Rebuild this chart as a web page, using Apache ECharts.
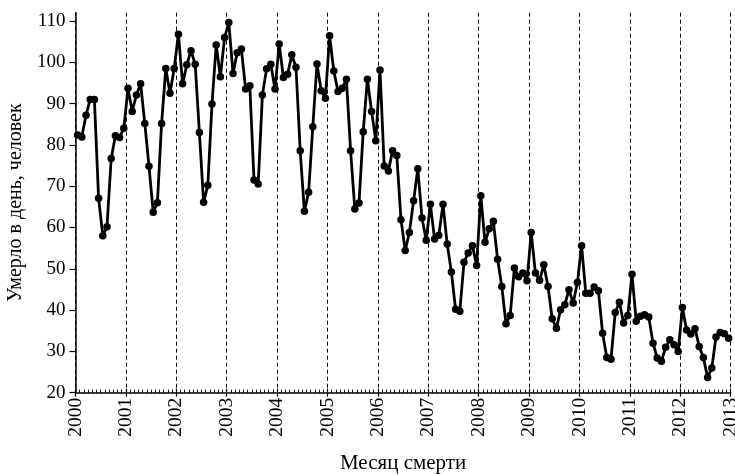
<!DOCTYPE html>
<html>
<head>
<meta charset="utf-8">
<script src="https://cdn.jsdelivr.net/npm/echarts@6/dist/echarts.min.js"></script>
<style>html,body{margin:0;padding:0;background:#fff}#c{width:735px;height:475px}</style>
</head>
<body>
<div id="c"></div>
<script>
// Monthly values (Jan..Dec) per year
const years = [2000,2001,2002,2003,2004,2005,2006,2007,2008,2009,2010,2011,2012];
const v2000 = [82.4, 81.9, 87.2, 91.0, 91.0, 67.1, 58.0, 60.2, 76.7, 82.2, 81.8, 84.0];
const v2001 = [93.7, 88.1, 92.1, 94.8, 85.2, 74.8, 63.7, 66.0, 85.2, 98.5, 92.5, 98.5];
const v2002 = [106.8, 94.8, 99.4, 102.8, 99.5, 83.0, 66.1, 70.2, 89.9, 104.2, 96.5, 106.0];
const v2003 = [109.6, 97.3, 102.3, 103.2, 93.5, 94.3, 71.5, 70.5, 92.1, 98.4, 99.5, 93.5];
const v2004 = [104.4, 96.3, 97.1, 101.8, 98.8, 78.6, 63.9, 68.5, 84.4, 99.6, 93.1, 91.3];
const v2005 = [106.4, 97.9, 92.9, 93.7, 95.9, 78.6, 64.5, 65.9, 83.2, 95.9, 88.1, 81.0];
const v2006 = [98.1, 74.9, 73.7, 78.6, 77.4, 61.9, 54.4, 58.8, 66.5, 74.2, 62.3, 56.9];
const v2007 = [65.6, 57.2, 58.1, 65.6, 56.0, 49.2, 40.2, 39.7, 51.6, 53.8, 55.6, 50.8];
const v2008 = [67.7, 56.4, 59.7, 61.5, 52.3, 45.7, 36.7, 38.7, 50.2, 48.1, 49.0, 47.1];
const v2009 = [58.8, 49.0, 47.2, 51.0, 45.7, 37.9, 35.6, 40.1, 41.3, 44.9, 41.7, 46.7];
const v2010 = [55.6, 44.1, 44.1, 45.6, 44.7, 34.4, 28.5, 28.1, 39.4, 41.9, 36.9, 38.7];
const v2011 = [48.7, 37.3, 38.5, 38.9, 38.3, 32.0, 28.4, 27.6, 31.0, 32.8, 31.6, 30.0];
const v2012 = [40.6, 35.2, 34.2, 35.5, 31.2, 28.5, 23.7, 26.0, 33.5, 34.6, 34.3, 33.2];
const yearValues = [v2000,v2001,v2002,v2003,v2004,v2005,v2006,v2007,v2008,v2009,v2010,v2011,v2012];
const yTicks = [20,30,40,50,60,70,80,90,100,110];

const data = [];
years.forEach((y, yi) => {
  yearValues[yi].forEach((v, m) => data.push([y + (m + 0.5) / 12, v]));
});

const font = 'Liberation Serif';
const chart = echarts.init(document.getElementById('c'));
chart.setOption({
  animation: false,
  grid: {left: 75.5, right: 4.3, top: 12.7, bottom: 82.3, containLabel: false, outerBoundsMode: 'none'},
  xAxis: [{
    type: 'value', min: 2000, max: 2013, interval: 1,
    name: 'Месяц смерти', nameLocation: 'middle', nameGap: 60,
    nameTextStyle: {fontFamily: font, fontSize: 21, color: '#000'},
    axisLine: {show: true, lineStyle: {color: '#000', width: 1.5}},
    axisTick: {show: true, inside: false, length: 4, lineStyle: {color: '#000', width: 1.2}},
    axisLabel: {rotate: 90, margin: 5, fontFamily: font, fontSize: 19.5, color: '#000',
      formatter: v => String(Math.round(v))},
    splitLine: {show: true, lineStyle: {color: '#000', type: [4, 3], width: 1}}
  }, {
    type: 'value', min: 2000, max: 2013, interval: 1, position: 'bottom',
    axisLine: {show: false},
    axisTick: {show: true, inside: true, length: 4, lineStyle: {color: '#000', width: 1.2}},
    minorTick: {show: true, splitNumber: 12, length: 3, lineStyle: {color: '#000', width: 1}},
    axisLabel: {show: false},
    splitLine: {show: false}
  }],
  yAxis: {
    type: 'value', min: 20, max: 112,
    name: 'Умерло в день, человек', nameLocation: 'middle', nameGap: 48, nameRotate: 90,
    nameTextStyle: {fontFamily: font, fontSize: 20, color: '#000'},
    axisLine: {show: true, lineStyle: {color: '#000', width: 1.5}},
    axisTick: {show: true, length: 6, customValues: yTicks, lineStyle: {color: '#000', width: 1.2}},
    axisLabel: {margin: 10, fontFamily: font, fontSize: 19, color: '#000', customValues: yTicks},
    splitLine: {show: false}
  },
  series: [{
    type: 'line', data: data, xAxisIndex: 0,
    symbol: 'circle', symbolSize: 7.5, showAllSymbol: true,
    lineStyle: {color: '#000', width: 2.8},
    itemStyle: {color: '#000'}
  }]
});
</script>
</body>
</html>
